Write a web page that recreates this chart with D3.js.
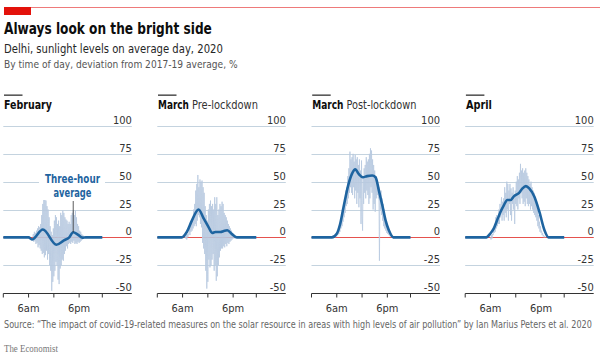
<!DOCTYPE html>
<html>
<head>
<meta charset="utf-8">
<script src="https://cdn.jsdelivr.net/npm/d3@7"></script>
<style>
  body { margin: 0; background: #fff; }
  svg text { font-family: "DejaVu Sans Condensed", "Liberation Sans", sans-serif; }
</style>
</head>
<body>
<div id="chart"></div>
<script>
// panneaux
const panelTitles = ["February", "March", "March", "April"];
const panelSubtitles = ["", "Pre-lockdown", "Post-lockdown", ""];

// axes
const yTicks = [100, 75, 50, 25, 0, -25, -50];
const xTicks = [0, 6, 12, 18, 23.5];
const xTickLabels = ["", "6am", "", "6pm", ""];

// données brutes (pas de 7,5 min) : heure de départ + valeurs lues
const rawStart = [7, 6.5, 5.75, 6];
const febRaw = [
  0, 3, -4, 5, -3, 4, -6, 6,
  -5, 8, -9, 10, -7, 9, -10, 12,
  -12, 20, -15, 30, -14, 37, -18, 35,
  -16, 33, -12, 28, -20, 25, -15, 18,
  -25, 10, -30, 5, -48, 2, -40, 8,
  -35, 15, -30, 20, -22, 18, -25, 12,
  -38, 15, -42, 10, -28, 22, -25, 20,
  -20, 24, -21, 22, -15, 18, -12, 16,
  -8, 15, -10, 12, -6, 14, -5, 12,
  -6, 20, -4, 22, -5, 24, -3, 20,
  -6, 24, -5, 18, -6, 12, -4, 10,
  -5, 6, -4, 5, -3, 3, -2, 2,
  0];
const marPreRaw = [
  0, 1, -1, 2, -2, 3, 0, 2,
  4, 8, 2, 12, 5, 14, 6, 18,
  8, 25, 10, 30, 12, 42, 10, 48,
  15, 56, 20, 45, 18, 52, 12, 50,
  9, 51, -5, 45, -10, 40, -15, 28,
  -30, 20, -46, 15, -40, 25, -20, 30,
  -27, 33, -25, 28, -20, 30, -15, 25,
  -30, 36, -25, 30, -39, 36, -35, 20,
  -25, 25, -18, 30, -12, 28, -10, 32,
  -10, 30, -8, 22, -9, 20, -6, 18,
  -8, 15, -5, 12, -6, 10, -4, 8,
  -3, 6, -2, 4, -1, 2, -1, 1,
  0];
const marPostRaw = [
  0, 2, 1, 4, 2, 5, 3, 8,
  5, 12, 8, 15, 10, 18, 14, 25,
  18, 35, 22, 42, 28, 45, 30, 55,
  35, 62, 40, 77, 45, 70, 40, 72,
  38, 75, 45, 68, 35, 74, 42, 70,
  30, 72, 40, 65, 27, 70, 35, 60,
  12, 69, 20, 6, 55, 30, 62, 40,
  65, 35, 72, 42, 68, 38, 70, 30,
  75, 35, 80, 45, 78, 40, 70, 25,
  65, 30, 60, 23, 55, 35, 50, 38,
  48, 35, 45, -21, 40, 25, 42, 20,
  35, 15, 30, 10, 25, 8, 18, 6,
  15, 4, 10, 3, 8, 2, 5, 1,
  4, 1, 3, 0, 2, 0, 1, 0,
  0];
const aprRaw = [
  0, -2, 2, -1, 3, 2, 6, 4,
  12, 5, 18, 8, 20, 10, 15, 12,
  25, 12, 30, 18, 28, 36, 15, 32,
  20, 35, 15, 45, 22, 40, 18, 50,
  25, 48, 15, 42, 30, 48, 20, 44,
  15, 40, 30, 45, 25, 38, 12, 42,
  30, 50, 28, 55, 25, 52, 35, 58,
  30, 66, 40, 60, 35, 62, 30, 58,
  32, 60, 28, 62, 35, 58, 30, 55,
  28, 52, 30, 48, 25, 50, 28, 45,
  25, 42, 22, 40, 20, 35, 18, 30,
  15, 25, 10, 20, 8, 14, 5, 10,
  4, 6, 2, 4, 1, 2, 0, 1,
  0];
const rawStep = 0.125;

// moyenne sur trois heures : [heure, valeur]
const febAvg = [[0, 0], [6, 0], [6.8, -2], [9.4, 7], [12.6, -6.6], [14.4, -2.7], [15.6, -0.3],
  [16.6, 4.5], [17.6, 2.7], [18.8, -0.3], [19.6, 0], [23.5, 0]];
const marPreAvg = [[0, 0], [5.8, 0], [7, 4.8], [8.2, 15], [9.8, 25], [11, 17], [12.2, 9], [13, 4],
  [13.8, 4.8], [15, 4.8], [15.8, 5.7], [16.6, 6.3], [17.8, 2.7], [18.9, 0], [23.5, 0]];
const marPostAvg = [[0, 0], [4.8, 0], [6, 3.3], [6.8, 12], [7.6, 27], [8.8, 48], [9.6, 57], [10.4, 61],
  [11.2, 57], [12.2, 54], [13.2, 55], [14.4, 55.5], [15.2, 54], [16, 42], [16.8, 29], [17.6, 15],
  [18.4, 6], [19.4, 0], [23.5, 0]];
const aprAvg = [[0, 0], [5, 0], [6, 3.6], [6.8, 8], [7.6, 15.6], [8.4, 23], [9.2, 29], [10, 33.6],
  [10.8, 33.6], [11.6, 37], [12.8, 40], [13.6, 44], [14.4, 46], [15.2, 44], [16.4, 36.6], [17.6, 23],
  [18.8, 6.6], [19.8, 0], [23.5, 0]];

const raws = [febRaw, marPreRaw, marPostRaw, aprRaw];
const avgs = [febAvg, marPreAvg, marPostAvg, aprAvg];

const width = 600, height = 362;
const panelLeft = [3.3, 157.3, 311.5, 465.2];
const plotW = 99, gridW = 128.5;
// largeurs (titre gras, sous-titre)
const titleWidths = [48, 31, 31.3, 26];
const subWidths = [0, 66, 70, 0];

// texte étroit : on comprime horizontalement pour tenir la largeur voulue
function condense(parent, x, yPos, str, w, style) {
  const g = parent.append("g");
  const t = g.append("text").text(str);
  Object.entries(style).forEach(([k, v]) => t.style(k, v));
  const natural = t.node().getComputedTextLength();
  g.attr("transform", `translate(${x},${yPos}) scale(${w / natural},1)`);
  return t;
}

const svg = d3.select("#chart").append("svg")
  .attr("width", width)
  .attr("height", height)
  .attr("viewBox", [0, 0, width, height]);

// bandeau rouge
svg.append("rect").attr("x", 4).attr("y", 7).attr("width", width - 4).attr("height", 1).attr("fill", "#ee7a7a");
svg.append("rect").attr("x", 4).attr("y", 7).attr("width", 27).attr("height", 8).attr("fill", "#e3120b");

// titres
condense(svg, 4, 33.5, "Always look on the bright side", 208,
  { "font-size": "15.5px", "font-weight": "bold", "fill": "#0d0d0d" });
condense(svg, 4, 52.5, "Delhi, sunlight levels on average day, 2020", 219,
  { "font-size": "12.5px", "fill": "#262626" });
condense(svg, 4, 68, "By time of day, deviation from 2017-19 average, %", 234,
  { "font-size": "11px", "fill": "#555" });

const y = d3.scaleLinear().domain([-50, 100]).range([293, 126]);
// lignes nettes (demi-pixel)
const yc = d => Math.round(y(d)) + 0.5;

panelTitles.forEach((title, i) => {
  const x0 = panelLeft[i];
  const x = d3.scaleLinear().domain([0, 23.5]).range([x0, x0 + plotW]);
  const g = svg.append("g");

  // titre du panneau
  g.append("rect").attr("x", x0 + 0.7).attr("y", 94.5).attr("width", 18.5).attr("height", 1.3).attr("fill", "#333");
  condense(g, x0 + 0.7, 109, title, titleWidths[i],
    { "font-size": "12px", "font-weight": "bold", "fill": "#0d0d0d" });
  if (panelSubtitles[i]) {
    condense(g, x0 + 0.7 + titleWidths[i] + 3, 109, panelSubtitles[i], subWidths[i],
      { "font-size": "12px", "fill": "#333" });
  }

  // grille
  g.append("g").selectAll("line")
    .data(yTicks.filter(d => d > -50))
    .join("line")
    .attr("x1", x0).attr("x2", x0 + gridW)
    .attr("y1", yc).attr("y2", yc)
    .attr("stroke", "#c4d3df").attr("stroke-width", 1);

  // étiquettes y
  g.append("g").selectAll("text")
    .data(yTicks)
    .join("text")
    .attr("x", x0 + gridW).attr("y", d => yc(d) - 3)
    .attr("text-anchor", "end")
    .style("font-size", "11px").style("fill", "#333")
    .text(d => d);

  // ligne zéro
  g.append("line")
    .attr("x1", x0).attr("x2", x0 + gridW)
    .attr("y1", yc(0)).attr("y2", yc(0))
    .attr("stroke", "#e5524e").attr("stroke-width", 1);

  // courbe brute
  const raw = raws[i].map((v, k) => [rawStart[i] + k * rawStep, v]);
  g.append("path")
    .attr("fill", "none")
    .attr("stroke", "#b7c9df")
    .attr("stroke-width", 0.8)
    .attr("d", d3.line().x(d => x(d[0])).y(d => y(d[1]))(raw));

  // moyenne
  g.append("path")
    .attr("fill", "none")
    .attr("stroke", "#1e64a0")
    .attr("stroke-width", 2.6)
    .attr("stroke-linejoin", "round")
    .attr("d", d3.line().curve(d3.curveMonotoneX).x(d => x(d[0])).y(d => y(d[1]))(avgs[i]));

  // axe x
  const ax = g.append("g").attr("transform", `translate(0,${yc(-50)})`);
  ax.append("line").attr("x1", x0).attr("x2", x0 + gridW).attr("stroke", "#333").attr("stroke-width", 1);
  ax.selectAll(".tick").data(xTicks).join("line")
    .attr("x1", d => x(d)).attr("x2", d => x(d))
    .attr("y1", 0).attr("y2", 4)
    .attr("stroke", "#333");
  ax.selectAll(".lab").data(xTicks).join("text")
    .attr("x", d => x(d)).attr("y", 18)
    .attr("text-anchor", "middle")
    .style("font-size", "11px").style("fill", "#333")
    .text((d, k) => xTickLabels[k]);

  // annotation
  if (i === 0) {
    const ann = g.append("g");
    ann.append("rect").attr("x", 39).attr("y", 172).attr("width", 66).attr("height", 28).attr("fill", "#fff");
    const annStyle = { "font-size": "11.5px", "font-weight": "bold", "fill": "#1e64a0" };
    condense(ann, 45, 183, "Three-hour", 55, annStyle);
    condense(ann, 53.5, 196.5, "average", 38, annStyle);
    ann.append("line").attr("x1", x(16.6)).attr("x2", x(16.6)).attr("y1", 201).attr("y2", y(4.5))
      .attr("stroke", "#333").attr("stroke-width", 0.8);
  }
});

// source
condense(svg, 4, 328,
  "Source: \u201cThe impact of covid-19-related measures on the solar resource in areas with high levels of air pollution\u201d by Ian Marius Peters et al. 2020",
  588, { "font-size": "10px", "fill": "#666" });
condense(svg, 4, 352, "The Economist", 54,
  { "font-family": "'Liberation Serif', 'DejaVu Serif', serif", "font-size": "11px", "fill": "#777" });
</script>
</body>
</html>
